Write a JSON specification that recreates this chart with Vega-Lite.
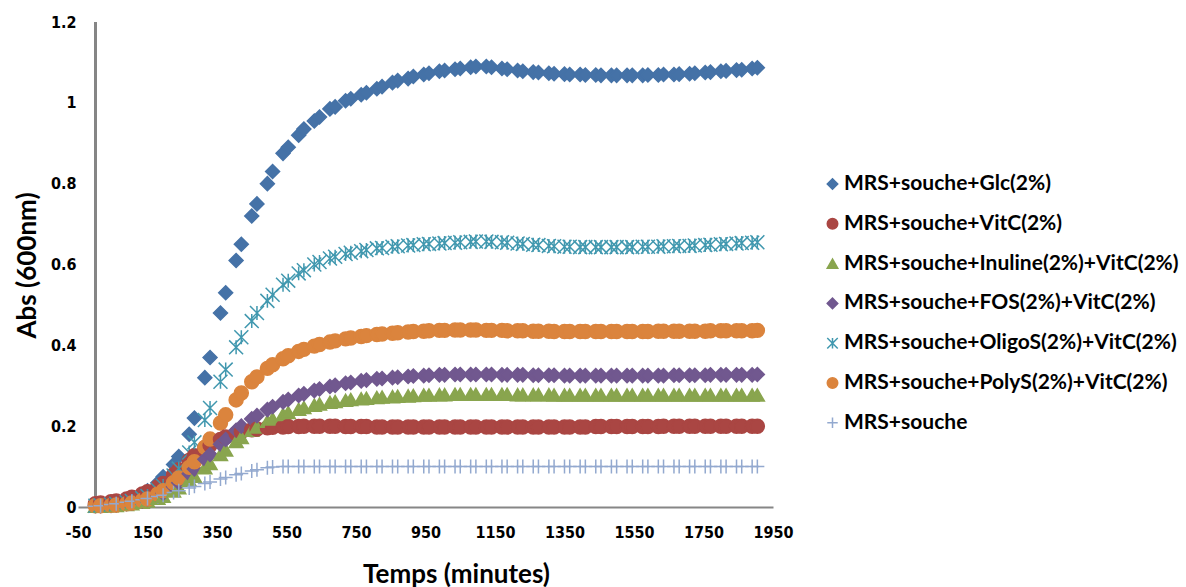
{
"$schema":"https://vega.github.io/schema/vega-lite/v6.json",
"width":695,"height":485,
"autosize":{"type":"none"},
"padding":{"left":78,"top":22,"right":413,"bottom":80},
"background":"white",
"config":{"view":{"stroke":null},"axis":{"grid":false},
 "legend":{"orient":"none","legendX":744,"legendY":151.5,"padding":0,"labelFont":"Lato","labelFontSize":21,"labelFontWeight":"bold","labelColor":"black","rowPadding":17.8,"symbolSize":110,"symbolStrokeWidth":1.5,"labelOffset":1,"labelLimit":400}},
"data":{"values":[
{"t":0,"glc":0.005,"vitc":0.008,"inu":0.002,"fos":0.003,"oligo":0.003,"poly":0.003,"mrs":0.002},
{"t":15,"glc":0.006,"vitc":0.01,"inu":0.002,"fos":0.003,"oligo":0.004,"poly":0.003,"mrs":0.003},
{"t":45,"glc":0.008,"vitc":0.013,"inu":0.003,"fos":0.004,"oligo":0.006,"poly":0.004,"mrs":0.006},
{"t":60,"glc":0.01,"vitc":0.015,"inu":0.004,"fos":0.005,"oligo":0.008,"poly":0.005,"mrs":0.008},
{"t":90,"glc":0.015,"vitc":0.02,"inu":0.006,"fos":0.008,"oligo":0.012,"poly":0.008,"mrs":0.012},
{"t":105,"glc":0.02,"vitc":0.024,"inu":0.008,"fos":0.01,"oligo":0.015,"poly":0.01,"mrs":0.014},
{"t":135,"glc":0.03,"vitc":0.032,"inu":0.012,"fos":0.015,"oligo":0.022,"poly":0.016,"mrs":0.018},
{"t":150,"glc":0.04,"vitc":0.038,"inu":0.015,"fos":0.019,"oligo":0.027,"poly":0.02,"mrs":0.021},
{"t":180,"glc":0.06,"vitc":0.05,"inu":0.022,"fos":0.028,"oligo":0.042,"poly":0.032,"mrs":0.026},
{"t":195,"glc":0.075,"vitc":0.058,"inu":0.027,"fos":0.034,"oligo":0.052,"poly":0.04,"mrs":0.029},
{"t":225,"glc":0.105,"vitc":0.08,"inu":0.04,"fos":0.05,"oligo":0.078,"poly":0.06,"mrs":0.036},
{"t":240,"glc":0.125,"vitc":0.092,"inu":0.048,"fos":0.06,"oligo":0.095,"poly":0.072,"mrs":0.04},
{"t":270,"glc":0.18,"vitc":0.115,"inu":0.066,"fos":0.082,"oligo":0.135,"poly":0.098,"mrs":0.047},
{"t":285,"glc":0.22,"vitc":0.127,"inu":0.076,"fos":0.094,"oligo":0.16,"poly":0.112,"mrs":0.051},
{"t":315,"glc":0.32,"vitc":0.145,"inu":0.097,"fos":0.118,"oligo":0.215,"poly":0.148,"mrs":0.058},
{"t":330,"glc":0.37,"vitc":0.153,"inu":0.108,"fos":0.13,"oligo":0.245,"poly":0.168,"mrs":0.062},
{"t":360,"glc":0.48,"vitc":0.167,"inu":0.13,"fos":0.155,"oligo":0.31,"poly":0.208,"mrs":0.069},
{"t":375,"glc":0.53,"vitc":0.173,"inu":0.141,"fos":0.167,"oligo":0.34,"poly":0.228,"mrs":0.073},
{"t":405,"glc":0.61,"vitc":0.182,"inu":0.162,"fos":0.19,"oligo":0.395,"poly":0.265,"mrs":0.08},
{"t":420,"glc":0.65,"vitc":0.186,"inu":0.172,"fos":0.2,"oligo":0.42,"poly":0.282,"mrs":0.083},
{"t":450,"glc":0.72,"vitc":0.191,"inu":0.19,"fos":0.218,"oligo":0.46,"poly":0.31,"mrs":0.089},
{"t":465,"glc":0.75,"vitc":0.193,"inu":0.198,"fos":0.226,"oligo":0.48,"poly":0.322,"mrs":0.092},
{"t":495,"glc":0.8,"vitc":0.196,"inu":0.212,"fos":0.241,"oligo":0.51,"poly":0.343,"mrs":0.097},
{"t":510,"glc":0.83,"vitc":0.197,"inu":0.218,"fos":0.248,"oligo":0.525,"poly":0.352,"mrs":0.099},
{"t":540,"glc":0.875,"vitc":0.198,"inu":0.229,"fos":0.26,"oligo":0.55,"poly":0.367,"mrs":0.1},
{"t":555,"glc":0.89,"vitc":0.199,"inu":0.234,"fos":0.266,"oligo":0.56,"poly":0.374,"mrs":0.1},
{"t":585,"glc":0.92,"vitc":0.199,"inu":0.242,"fos":0.276,"oligo":0.578,"poly":0.385,"mrs":0.1},
{"t":600,"glc":0.935,"vitc":0.2,"inu":0.246,"fos":0.28,"oligo":0.586,"poly":0.39,"mrs":0.1},
{"t":630,"glc":0.955,"vitc":0.2,"inu":0.252,"fos":0.288,"oligo":0.6,"poly":0.398,"mrs":0.1},
{"t":645,"glc":0.965,"vitc":0.2,"inu":0.255,"fos":0.292,"oligo":0.606,"poly":0.402,"mrs":0.1},
{"t":675,"glc":0.985,"vitc":0.2,"inu":0.259,"fos":0.298,"oligo":0.615,"poly":0.408,"mrs":0.1},
{"t":690,"glc":0.99,"vitc":0.2,"inu":0.261,"fos":0.301,"oligo":0.619,"poly":0.411,"mrs":0.1},
{"t":720,"glc":1.005,"vitc":0.199,"inu":0.264,"fos":0.306,"oligo":0.626,"poly":0.416,"mrs":0.1},
{"t":735,"glc":1.01,"vitc":0.199,"inu":0.266,"fos":0.308,"oligo":0.629,"poly":0.418,"mrs":0.1},
{"t":765,"glc":1.02,"vitc":0.199,"inu":0.268,"fos":0.312,"oligo":0.633,"poly":0.422,"mrs":0.1},
{"t":780,"glc":1.025,"vitc":0.199,"inu":0.269,"fos":0.314,"oligo":0.636,"poly":0.424,"mrs":0.1},
{"t":810,"glc":1.035,"vitc":0.198,"inu":0.271,"fos":0.317,"oligo":0.64,"poly":0.427,"mrs":0.1},
{"t":825,"glc":1.04,"vitc":0.198,"inu":0.272,"fos":0.318,"oligo":0.641,"poly":0.428,"mrs":0.1},
{"t":855,"glc":1.05,"vitc":0.198,"inu":0.273,"fos":0.32,"oligo":0.644,"poly":0.43,"mrs":0.1},
{"t":870,"glc":1.055,"vitc":0.198,"inu":0.274,"fos":0.321,"oligo":0.645,"poly":0.431,"mrs":0.1},
{"t":900,"glc":1.06,"vitc":0.198,"inu":0.275,"fos":0.323,"oligo":0.647,"poly":0.433,"mrs":0.1},
{"t":915,"glc":1.065,"vitc":0.198,"inu":0.276,"fos":0.324,"oligo":0.648,"poly":0.434,"mrs":0.1},
{"t":945,"glc":1.07,"vitc":0.198,"inu":0.277,"fos":0.325,"oligo":0.65,"poly":0.435,"mrs":0.1},
{"t":960,"glc":1.073,"vitc":0.198,"inu":0.277,"fos":0.326,"oligo":0.651,"poly":0.436,"mrs":0.1},
{"t":990,"glc":1.078,"vitc":0.198,"inu":0.278,"fos":0.327,"oligo":0.652,"poly":0.437,"mrs":0.1},
{"t":1005,"glc":1.08,"vitc":0.198,"inu":0.278,"fos":0.327,"oligo":0.653,"poly":0.437,"mrs":0.1},
{"t":1035,"glc":1.083,"vitc":0.198,"inu":0.279,"fos":0.328,"oligo":0.654,"poly":0.438,"mrs":0.1},
{"t":1050,"glc":1.085,"vitc":0.198,"inu":0.279,"fos":0.328,"oligo":0.655,"poly":0.438,"mrs":0.1},
{"t":1080,"glc":1.088,"vitc":0.198,"inu":0.279,"fos":0.328,"oligo":0.656,"poly":0.438,"mrs":0.1},
{"t":1095,"glc":1.09,"vitc":0.198,"inu":0.279,"fos":0.328,"oligo":0.657,"poly":0.438,"mrs":0.1},
{"t":1125,"glc":1.09,"vitc":0.198,"inu":0.279,"fos":0.328,"oligo":0.657,"poly":0.437,"mrs":0.1},
{"t":1140,"glc":1.088,"vitc":0.198,"inu":0.279,"fos":0.328,"oligo":0.656,"poly":0.437,"mrs":0.1},
{"t":1170,"glc":1.085,"vitc":0.198,"inu":0.279,"fos":0.327,"oligo":0.655,"poly":0.437,"mrs":0.1},
{"t":1185,"glc":1.083,"vitc":0.198,"inu":0.279,"fos":0.327,"oligo":0.654,"poly":0.436,"mrs":0.1},
{"t":1215,"glc":1.08,"vitc":0.198,"inu":0.278,"fos":0.327,"oligo":0.652,"poly":0.436,"mrs":0.1},
{"t":1230,"glc":1.078,"vitc":0.198,"inu":0.278,"fos":0.327,"oligo":0.651,"poly":0.436,"mrs":0.1},
{"t":1260,"glc":1.076,"vitc":0.198,"inu":0.278,"fos":0.326,"oligo":0.649,"poly":0.435,"mrs":0.1},
{"t":1275,"glc":1.075,"vitc":0.198,"inu":0.278,"fos":0.326,"oligo":0.648,"poly":0.435,"mrs":0.1},
{"t":1305,"glc":1.073,"vitc":0.198,"inu":0.278,"fos":0.326,"oligo":0.646,"poly":0.435,"mrs":0.1},
{"t":1320,"glc":1.072,"vitc":0.198,"inu":0.277,"fos":0.326,"oligo":0.645,"poly":0.434,"mrs":0.1},
{"t":1350,"glc":1.071,"vitc":0.198,"inu":0.277,"fos":0.325,"oligo":0.644,"poly":0.434,"mrs":0.1},
{"t":1365,"glc":1.07,"vitc":0.198,"inu":0.277,"fos":0.325,"oligo":0.644,"poly":0.434,"mrs":0.1},
{"t":1395,"glc":1.07,"vitc":0.198,"inu":0.277,"fos":0.325,"oligo":0.643,"poly":0.434,"mrs":0.1},
{"t":1410,"glc":1.069,"vitc":0.198,"inu":0.277,"fos":0.325,"oligo":0.643,"poly":0.434,"mrs":0.1},
{"t":1440,"glc":1.069,"vitc":0.199,"inu":0.277,"fos":0.325,"oligo":0.643,"poly":0.434,"mrs":0.1},
{"t":1455,"glc":1.068,"vitc":0.199,"inu":0.277,"fos":0.325,"oligo":0.643,"poly":0.434,"mrs":0.1},
{"t":1485,"glc":1.068,"vitc":0.199,"inu":0.277,"fos":0.325,"oligo":0.643,"poly":0.434,"mrs":0.1},
{"t":1500,"glc":1.068,"vitc":0.199,"inu":0.277,"fos":0.325,"oligo":0.643,"poly":0.434,"mrs":0.1},
{"t":1530,"glc":1.068,"vitc":0.199,"inu":0.277,"fos":0.325,"oligo":0.643,"poly":0.434,"mrs":0.1},
{"t":1545,"glc":1.068,"vitc":0.199,"inu":0.277,"fos":0.325,"oligo":0.643,"poly":0.434,"mrs":0.1},
{"t":1575,"glc":1.068,"vitc":0.199,"inu":0.277,"fos":0.325,"oligo":0.644,"poly":0.434,"mrs":0.1},
{"t":1590,"glc":1.069,"vitc":0.199,"inu":0.277,"fos":0.325,"oligo":0.644,"poly":0.434,"mrs":0.1},
{"t":1620,"glc":1.069,"vitc":0.199,"inu":0.277,"fos":0.325,"oligo":0.644,"poly":0.435,"mrs":0.1},
{"t":1635,"glc":1.07,"vitc":0.2,"inu":0.277,"fos":0.325,"oligo":0.645,"poly":0.435,"mrs":0.1},
{"t":1665,"glc":1.07,"vitc":0.2,"inu":0.277,"fos":0.326,"oligo":0.645,"poly":0.435,"mrs":0.1},
{"t":1680,"glc":1.071,"vitc":0.2,"inu":0.277,"fos":0.326,"oligo":0.646,"poly":0.435,"mrs":0.1},
{"t":1710,"glc":1.072,"vitc":0.2,"inu":0.277,"fos":0.326,"oligo":0.646,"poly":0.435,"mrs":0.1},
{"t":1725,"glc":1.073,"vitc":0.2,"inu":0.277,"fos":0.326,"oligo":0.647,"poly":0.435,"mrs":0.1},
{"t":1755,"glc":1.075,"vitc":0.2,"inu":0.277,"fos":0.326,"oligo":0.648,"poly":0.435,"mrs":0.1},
{"t":1770,"glc":1.076,"vitc":0.2,"inu":0.277,"fos":0.327,"oligo":0.649,"poly":0.436,"mrs":0.1},
{"t":1800,"glc":1.078,"vitc":0.2,"inu":0.277,"fos":0.327,"oligo":0.65,"poly":0.436,"mrs":0.1},
{"t":1815,"glc":1.079,"vitc":0.2,"inu":0.277,"fos":0.327,"oligo":0.651,"poly":0.436,"mrs":0.1},
{"t":1845,"glc":1.081,"vitc":0.2,"inu":0.277,"fos":0.327,"oligo":0.652,"poly":0.436,"mrs":0.1},
{"t":1860,"glc":1.082,"vitc":0.2,"inu":0.277,"fos":0.327,"oligo":0.653,"poly":0.436,"mrs":0.1},
{"t":1890,"glc":1.085,"vitc":0.2,"inu":0.277,"fos":0.327,"oligo":0.654,"poly":0.436,"mrs":0.1},
{"t":1905,"glc":1.087,"vitc":0.2,"inu":0.277,"fos":0.328,"oligo":0.655,"poly":0.437,"mrs":0.1}
]},
"layer":[
{"mark":{"type":"rule","color":"#868686","strokeWidth":2},
 "encoding":{"x":{"datum":0,"type":"quantitative"}}},
{"transform":[{"fold":["glc","vitc","inu","fos","oligo","poly","mrs"],"as":["series","abs"]}],
 "mark":{"type":"point","filled":true,"opacity":1,"strokeWidth":1.5,"size":195},
 "encoding":{
  "x":{"field":"t","type":"quantitative","scale":{"domain":[-50,1950],"nice":false,"zero":false},
   "axis":{"values":[-50,150,350,550,750,950,1150,1350,1550,1750,1950],"labelExpr":"'' + datum.value","ticks":false,"domainColor":"#868686","domainWidth":2,
    "labelFont":"DejaVu Sans Condensed, DejaVu Sans","labelFontSize":16,"labelFontWeight":"bold","labelColor":"black","labelPadding":17,"labelFlush":false,"labelOverlap":false,
    "title":"Temps (minutes)","titleFont":"Lato","titleFontSize":26,"titleFontWeight":"bold","titleColor":"black","titleX":378,"titleY":75,"titleAlign":"center","titleBaseline":"alphabetic"}},
  "y":{"field":"abs","type":"quantitative","scale":{"domain":[0,1.2],"nice":false},
   "axis":{"values":[0,0.2,0.4,0.6,0.8,1,1.2],"format":"~g","ticks":false,"domain":false,
    "labelFont":"DejaVu Sans Condensed, DejaVu Sans","labelFontSize":16,"labelFontWeight":"bold","labelColor":"black","labelPadding":2,
    "title":"Abs (600nm)","titleFont":"Lato","titleFontSize":26,"titleFontWeight":"bold","titleColor":"black","titleX":-51,"titleY":243,"titleAngle":-90,"titleAlign":"center","titleBaseline":"middle"}},
  "color":{"field":"series","type":"nominal","scale":{"domain":["glc","vitc","inu","fos","oligo","poly","mrs"],"range":["#4572A7","#AA4643","#89A54E","#71588F","#4198AF","#DB843D","#93A9CF"]},
   "legend":{"title":null,"labelExpr":"datum.label=='glc'?'MRS+souche+Glc(2%)':datum.label=='vitc'?'MRS+souche+VitC(2%)':datum.label=='inu'?'MRS+souche+Inuline(2%)+VitC(2%)':datum.label=='fos'?'MRS+souche+FOS(2%)+VitC(2%)':datum.label=='oligo'?'MRS+souche+OligoS(2%)+VitC(2%)':datum.label=='poly'?'MRS+souche+PolyS(2%)+VitC(2%)':'MRS+souche'"}},
  "stroke":{"field":"series","type":"nominal","scale":{"domain":["glc","vitc","inu","fos","oligo","poly","mrs"],"range":["#4572A7","#AA4643","#89A54E","#71588F","#4198AF","#DB843D","#93A9CF"]},
   "legend":{"title":null,"labelExpr":"datum.label=='glc'?'MRS+souche+Glc(2%)':datum.label=='vitc'?'MRS+souche+VitC(2%)':datum.label=='inu'?'MRS+souche+Inuline(2%)+VitC(2%)':datum.label=='fos'?'MRS+souche+FOS(2%)+VitC(2%)':datum.label=='oligo'?'MRS+souche+OligoS(2%)+VitC(2%)':datum.label=='poly'?'MRS+souche+PolyS(2%)+VitC(2%)':'MRS+souche'"}},
  "shape":{"field":"series","type":"nominal","scale":{"domain":["glc","vitc","inu","fos","oligo","poly","mrs"],"range":["diamond","circle","triangle-up","diamond","M-1,-1L1,1M-1,1L1,-1M0,-1L0,1","circle","M-1,0L1,0M0,-1L0,1"]},
   "legend":{"title":null,"labelExpr":"datum.label=='glc'?'MRS+souche+Glc(2%)':datum.label=='vitc'?'MRS+souche+VitC(2%)':datum.label=='inu'?'MRS+souche+Inuline(2%)+VitC(2%)':datum.label=='fos'?'MRS+souche+FOS(2%)+VitC(2%)':datum.label=='oligo'?'MRS+souche+OligoS(2%)+VitC(2%)':datum.label=='poly'?'MRS+souche+PolyS(2%)+VitC(2%)':'MRS+souche'"}}
 }}
]
}
